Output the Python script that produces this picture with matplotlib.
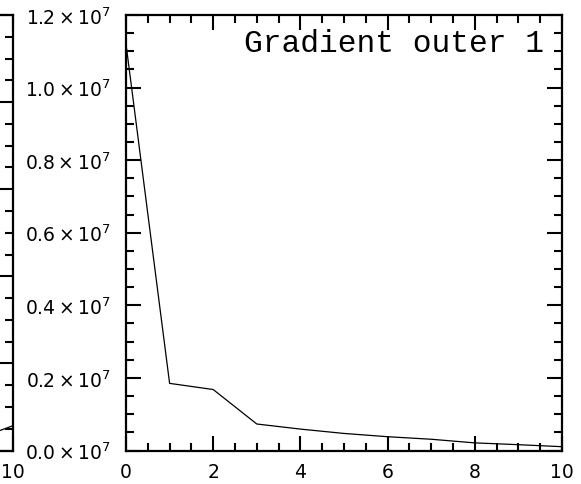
import matplotlib
matplotlib.use("Agg")
import matplotlib.pyplot as plt
from matplotlib.ticker import MultipleLocator, FuncFormatter, FixedLocator

# Data (main panel)
iterations = [0, 1, 2, 3, 4, 5, 6, 7, 8, 9, 10]
gradient = [1.12e7, 0.185e7, 0.168e7, 0.073e7, 0.059e7, 0.047e7,
            0.038e7, 0.031e7, 0.021e7, 0.016e7, 0.0105e7]
title = "Gradient outer 1"

# Fragment of neighbouring panel (only its right edge is visible)
left_x = [9, 10]
left_y = [0.10, 0.285]

fig = plt.figure(figsize=(5.81, 4.85), dpi=100)

W, H = 581.0, 485.0
ax_l, ax_r, ax_t, ax_b = 126, 562, 16, 451.5
pos = [ax_l / W, (H - ax_b) / H, (ax_r - ax_l) / W, (ax_b - ax_t) / H]

def style(ax):
    for s in ax.spines.values():
        s.set_linewidth(1.6)
    ax.tick_params(which="both", direction="in", top=True, right=True,
                   width=1.5, labelsize=13.5, colors="black")
    ax.tick_params(which="major", length=11)
    ax.tick_params(which="minor", length=5.5)
    ax.tick_params(axis="x", which="major", pad=8)
    ax.tick_params(axis="y", which="major", pad=11)

# Neighbouring panel (mostly off-figure)
left_w = pos[2]
axL = fig.add_axes([13 / W - left_w, pos[1], left_w, pos[3]])
axL.plot(left_x, left_y, color="black", lw=0.9)
axL.set_xlim(0, 10)
axL.set_ylim(0, 5)
axL.xaxis.set_major_locator(FixedLocator([10]))
axL.xaxis.set_minor_locator(MultipleLocator(0.5))
axL.yaxis.set_major_locator(MultipleLocator(1))
axL.yaxis.set_minor_locator(MultipleLocator(0.25))
style(axL)
axL.set_yticklabels([])

# Main panel
ax = fig.add_axes(pos)
ax.plot(iterations, gradient, color="black", lw=0.9)
ax.set_xlim(0, 10)
ax.set_ylim(0, 1.2e7)
ax.xaxis.set_major_locator(MultipleLocator(2))
ax.xaxis.set_minor_locator(MultipleLocator(0.5))
ax.yaxis.set_major_locator(MultipleLocator(0.2e7))
ax.yaxis.set_minor_locator(MultipleLocator(0.05e7))
ax.yaxis.set_major_formatter(FuncFormatter(
    lambda v, p: r"$%.1f\times10^{7}$" % (v / 1e7)))
style(ax)
ax.text(0.958, 0.935, title, transform=ax.transAxes, ha="right", va="center",
        family="Liberation Mono", fontsize=22.5)

fig.savefig("out.png", dpi=100)
